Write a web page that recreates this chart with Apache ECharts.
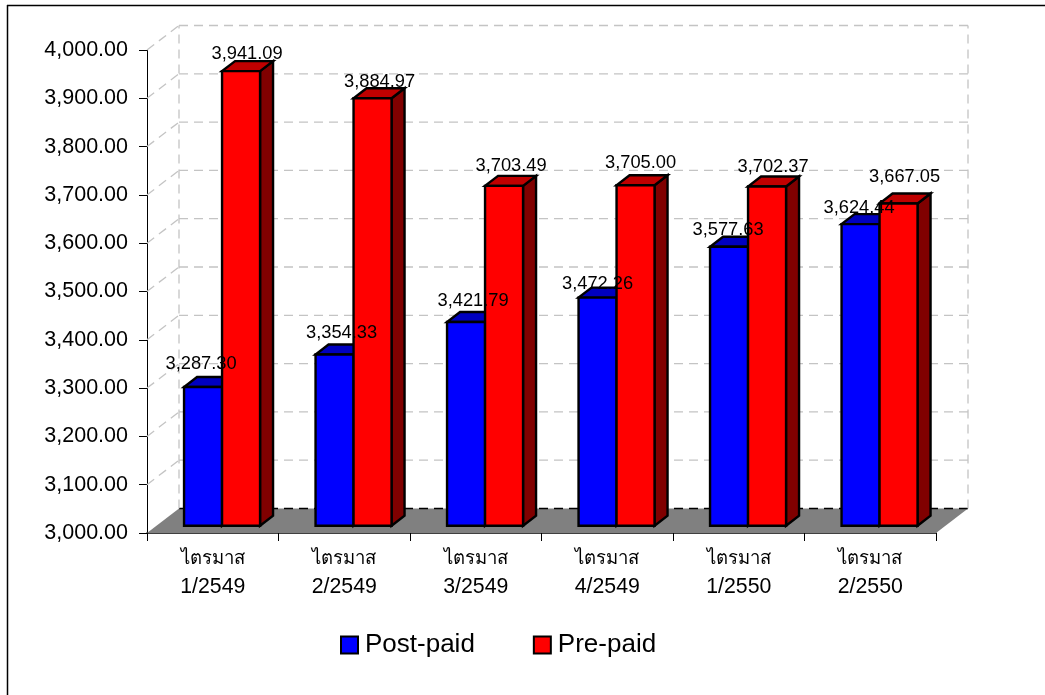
<!DOCTYPE html>
<html>
<head>
<meta charset="utf-8">
<style>html,body{margin:0;padding:0;background:#fff}#c{width:1045px;height:695px}</style>
<script src="https://cdn.jsdelivr.net/npm/echarts@6/dist/echarts.min.js"></script>
</head>
<body>
<div id="c"></div>
<script>
var categories = ['ไตรมาส\n1/2549','ไตรมาส\n2/2549','ไตรมาส\n3/2549','ไตรมาส\n4/2549','ไตรมาส\n1/2550','ไตรมาส\n2/2550'];
var postPaid = [3287.30,3354.33,3421.79,3472.26,3577.63,3624.44];
var prePaid = [3941.09,3884.97,3703.49,3705.00,3702.37,3667.05];
var yTicks = [3000,3100,3200,3300,3400,3500,3600,3700,3800,3900,4000];
var postNudge = [[-2,-23],[7,-21.5],[7,-21.5],[0,-13.5],[-1,-16.5],[-1.5,-16.5]];
var preNudge = [[6,-17.5],[7,-16.5],[7,-19.5],[5,-22.5],[6,-19.5],[6,-26.5]];

var FONT = '"Liberation Sans", Arial, "Noto Sans", sans-serif';
var WALL_DX = 32, WALL_DY = 24.5;      // 3D depth of the plot box
var PLANE_DX = 9.3, PLANE_DY = 7.3;    // bars stand this far back on the floor
var BAR_W = 38, BAR_DX = 13, BAR_DY = 10;

function fmt(v){ return v.toLocaleString('en-US',{minimumFractionDigits:2,maximumFractionDigits:2}); }

function barRenderer(offsetSign, front, top, side){
  return function(params, api){
    var base = api.coord([api.value(0), 3000]);
    var head = api.coord([api.value(0), api.value(1)]);
    var xc = base[0] + PLANE_DX;
    var x0 = offsetSign < 0 ? xc - BAR_W : xc;
    var x1 = x0 + BAR_W;
    var yb = base[1] - PLANE_DY;
    var yt = head[1] - PLANE_DY;
    var stroke = {stroke:'#000', lineWidth:2.4, lineJoin:'miter'};
    function poly(points, fill){
      return {type:'polygon', shape:{points:points}, style:Object.assign({fill:fill}, stroke)};
    }
    return {type:'group', children:[
      poly([[x1,yb],[x1+BAR_DX,yb-BAR_DY],[x1+BAR_DX,yt-BAR_DY],[x1,yt]], side),
      poly([[x0,yt],[x1,yt],[x1+BAR_DX,yt-BAR_DY],[x0+BAR_DX,yt-BAR_DY]], top),
      poly([[x0,yb],[x1,yb],[x1,yt],[x0,yt]], front)
    ]};
  };
}

function labelRenderer(offsetSign, nudge){
  return function(params, api){
    var head = api.coord([api.value(0), api.value(1)]);
    var n = nudge[params.dataIndex];
    var xc = head[0] + PLANE_DX + offsetSign * BAR_W / 2 + n[0];
    var y = head[1] - PLANE_DY + n[1];
    return {type:'text', style:{x:xc, y:y, text:fmt(api.value(1)), fill:'#000',
      font:'18.3px '+FONT, textAlign:'center', textVerticalAlign:'middle'}};
  };
}

function wallRenderer(params, api){
  var c = params.coordSys;
  var v = api.value(0);
  var p = api.coord([0, v]);
  var y = p[1], xL = c.x, xR = c.x + c.width;
  var dash = {stroke:'#c4c4c4', lineWidth:1.3, lineDash:[9,6], fill:null};
  var kids = [];
  if (params.dataIndex === 0) {
    kids.push({type:'polygon', shape:{points:[[xL,y],[xR,y],[xR+WALL_DX,y-WALL_DY],[xL+WALL_DX,y-WALL_DY]]},
      style:{fill:'#808080', stroke:null}});
    kids.push({type:'line', shape:{x1:xL+WALL_DX,y1:y-WALL_DY,x2:xR+WALL_DX,y2:y-WALL_DY},
      style:{stroke:'#000', lineWidth:1.3, lineDash:[9,6]}});
    kids.push({type:'line', shape:{x1:xL+WALL_DX,y1:y-WALL_DY,x2:xL+WALL_DX,y2:c.y-WALL_DY}, style:dash});
    kids.push({type:'line', shape:{x1:xR+WALL_DX,y1:y-WALL_DY,x2:xR+WALL_DX,y2:c.y-WALL_DY}, style:dash});
  } else {
    kids.push({type:'line', shape:{x1:xL,y1:y,x2:xL+WALL_DX,y2:y-WALL_DY}, style:dash});
    kids.push({type:'line', shape:{x1:xL+WALL_DX,y1:y-WALL_DY,x2:xR+WALL_DX,y2:y-WALL_DY}, style:dash});
  }
  return {type:'group', children:kids};
}

var chart = echarts.init(document.getElementById('c'), null, {renderer:'canvas'});
chart.setOption({
  animation:false,
  backgroundColor:'#fff',
  textStyle:{fontFamily:FONT},
  graphic:[
    {type:'line', shape:{x1:7,y1:5.5,x2:1045,y2:5.5}, style:{stroke:'#000',lineWidth:1.5}},
    {type:'line', shape:{x1:7.5,y1:5,x2:7.5,y2:695}, style:{stroke:'#000',lineWidth:1.5}}
  ],
  legend:{
    data:['Post-paid','Pre-paid'], left:340, top:632, padding:0, itemWidth:17, itemHeight:17, itemGap:58,
    icon:'rect',
    textStyle:{fontSize:26, color:'#000', fontFamily:FONT, padding:[0,0,0,2]}
  },
  grid:{left:147, top:50, width:789, height:483},
  xAxis:{
    type:'category', data:categories, boundaryGap:true,
    axisLine:{lineStyle:{color:'#000',width:1.5}},
    axisTick:{show:true, length:8, alignWithLabel:false, lineStyle:{color:'#000',width:1}},
    axisLabel:{color:'#000', margin:12, fontFamily:FONT, interval:0,
      formatter:function(v){ var p=v.split('\n'); return '{th|'+p[0]+'}\n{n|'+p[1]+'}'; },
      rich:{th:{fontSize:18.5, lineHeight:28, color:'#000', fontFamily:FONT},
            n:{fontSize:21.3, lineHeight:28, color:'#000', fontFamily:FONT}}}
  },
  yAxis:{
    type:'value', min:3000, max:4000, interval:100,
    splitLine:{show:false},
    axisLine:{show:true, lineStyle:{color:'#000',width:1}},
    axisTick:{show:true, length:8, lineStyle:{color:'#000',width:1}},
    axisLabel:{color:'#000', fontSize:21.5, margin:19, fontFamily:FONT, formatter:function(v){return fmt(v);}}
  },
  series:[
    {type:'custom', name:'walls', z:1, silent:true, clip:false, renderItem:wallRenderer,
      data:yTicks.map(function(t){return [t];}), encode:{y:0}},
    {type:'custom', name:'Post-paid', z:2, clip:false, itemStyle:{color:'#0000ff',borderColor:'#000',borderWidth:2},
      renderItem:barRenderer(-1,'#0000ff','#0000c0','#000080'),
      data:postPaid.map(function(v,i){return [i,v];}), encode:{x:0,y:1}},
    {type:'custom', name:'Pre-paid', z:3, clip:false, itemStyle:{color:'#ff0000',borderColor:'#000',borderWidth:2},
      renderItem:barRenderer(1,'#ff0000','#c00000','#800000'),
      data:prePaid.map(function(v,i){return [i,v];}), encode:{x:0,y:1}},
    {type:'custom', name:'Post-paid labels', z:4, silent:true, clip:false, renderItem:labelRenderer(-1,postNudge),
      data:postPaid.map(function(v,i){return [i,v];}), encode:{x:0,y:1}},
    {type:'custom', name:'Pre-paid labels', z:4, silent:true, clip:false, renderItem:labelRenderer(1,preNudge),
      data:prePaid.map(function(v,i){return [i,v];}), encode:{x:0,y:1}}
  ]
});
</script>
</body>
</html>
